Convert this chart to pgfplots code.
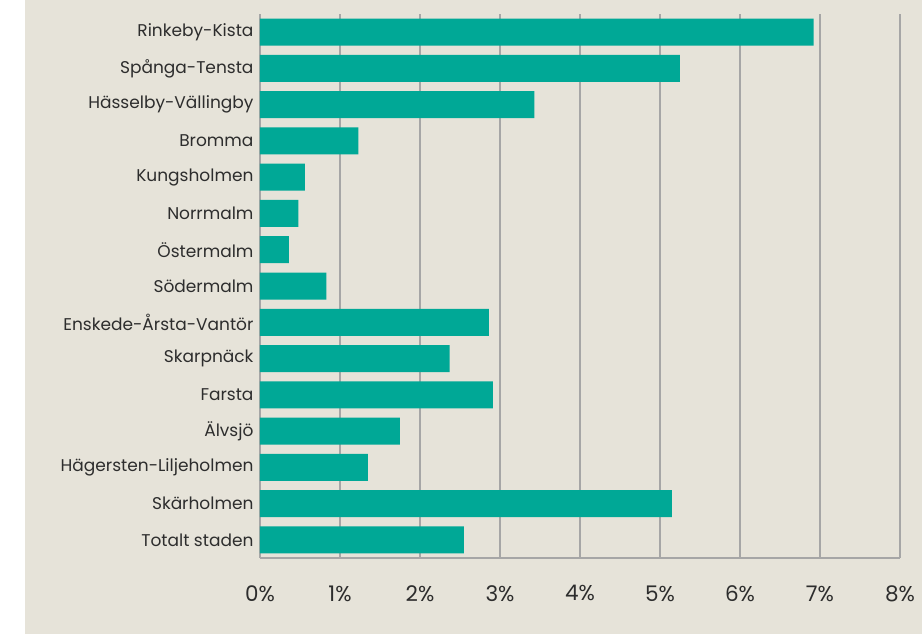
\documentclass[border=0pt]{standalone}
\usepackage{pgfplots}
\pgfplotsset{compat=1.18}
\usepackage{fontspec}
\setmainfont{Poppins}
\definecolor{bg}{RGB}{230,227,217}
\definecolor{barc}{RGB}{0,168,150}
\definecolor{gridc}{RGB}{166,166,166}
\definecolor{txt}{RGB}{45,45,45}
\begin{document}
\begin{tikzpicture}
\fill[white] (-260pt,-76pt) rectangle (662pt,558pt);
\fill[bg] (-235pt,-76pt) rectangle (662pt,558pt);
\begin{axis}[
  scale only axis, width=640pt, height=544pt,
  xbar, bar width=27pt,
  xmin=0, xmax=8, ymin=-0.5, ymax=14.5,
  y dir=reverse,
  axis x line=bottom, axis y line=left,
  axis line style={-, draw=gridc, line width=1.5pt},
  xmajorgrids, major grid style={draw=gridc, line width=1.5pt},
  major tick length=0pt,
  ytick={0,...,14},
  yticklabels={Rinkeby-Kista,Spånga-Tensta,Hässelby-Vällingby,Bromma,Kungsholmen,Norrmalm,Östermalm,Södermalm,Enskede-Årsta-Vantör,Skarpnäck,Farsta,Älvsjö,Hägersten-Liljeholmen,Skärholmen,Totalt staden},
  xtick={0,...,8},
  xticklabels={0\%,1\%,2\%,3\%,4\%,5\%,6\%,7\%,8\%},
  yticklabel style={font=\fontsize{17}{20}\selectfont, text=txt, xshift=-3pt},
  xticklabel style={font=\fontsize{21.5}{24}\selectfont, text=txt, yshift=-24pt},
]
\addplot[fill=barc, draw=none] coordinates {
(6.92,0) (5.25,1) (3.43,2) (1.23,3) (0.56,4) (0.48,5) (0.36,6) (0.83,7)
(2.86,8) (2.37,9) (2.91,10) (1.75,11) (1.35,12) (5.15,13) (2.55,14)};
\end{axis}
\pgfresetboundingbox
\path (-260pt,-76pt) rectangle (662pt,558pt);
\end{tikzpicture}
\end{document}
